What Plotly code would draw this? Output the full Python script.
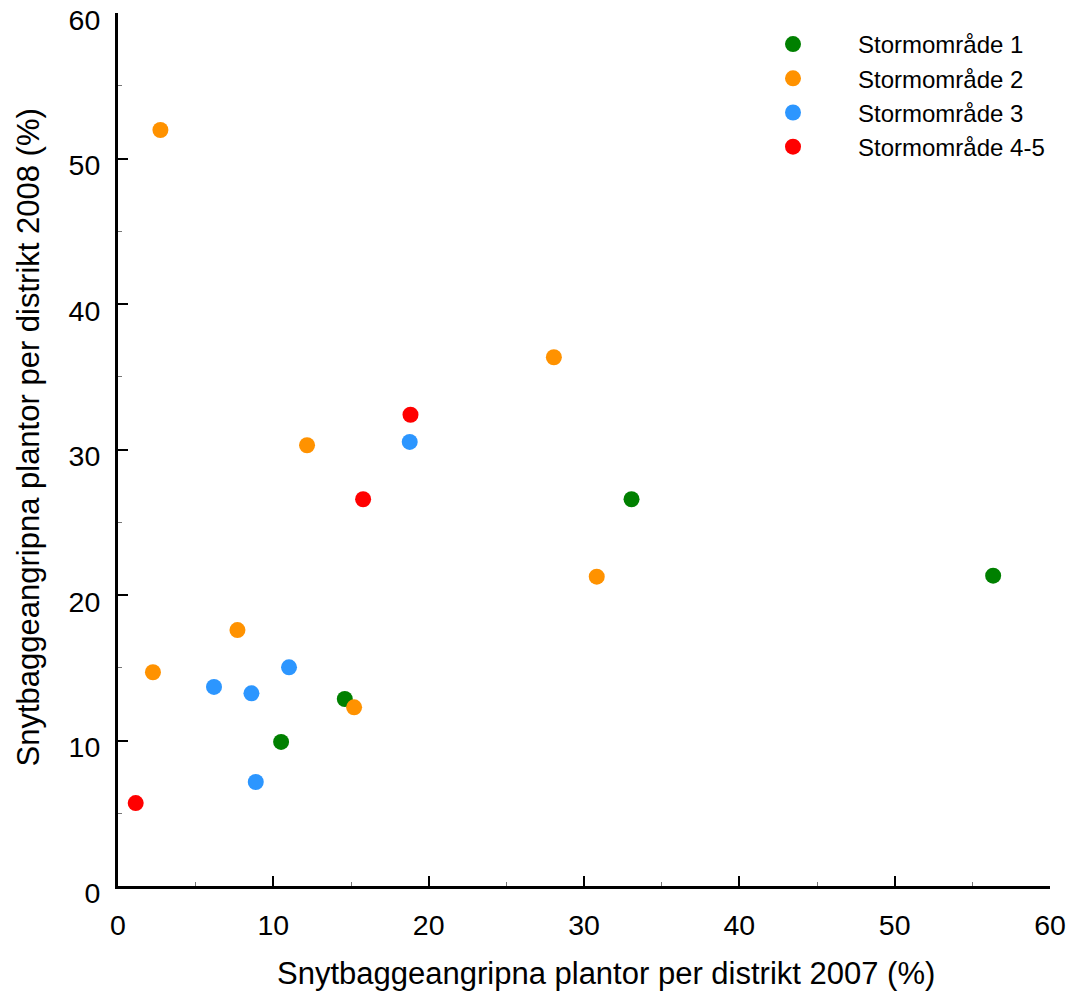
import plotly.graph_objects as go

series_names = ["Stormområde 1", "Stormområde 2", "Stormområde 3", "Stormområde 4-5"]
series_colors = ["#008000", "#FF9200", "#2C96FF", "#FF0000"]

x_s1 = [10.5, 14.6, 33.06, 56.34]
y_s1 = [9.9, 12.85, 26.58, 21.33]

x_s2 = [2.73, 2.25, 7.69, 12.17, 15.2, 28.06, 30.82]
y_s2 = [51.96, 14.69, 17.59, 30.29, 12.28, 36.34, 21.26]

x_s3 = [6.18, 8.59, 8.87, 11.01, 18.78]
y_s3 = [13.68, 13.24, 7.15, 15.03, 30.52]

x_s4 = [1.14, 15.78, 18.83]
y_s4 = [5.7, 26.58, 32.39]

tick_values = [0, 10, 20, 30, 40, 50, 60]

xs = [x_s1, x_s2, x_s3, x_s4]
ys = [y_s1, y_s2, y_s3, y_s4]

x_title = "Snytbaggeangripna plantor per distrikt 2007 (%)"
y_title = "Snytbaggeangripna plantor per distrikt 2008 (%)"

FONT = "Liberation Sans, Arial, sans-serif"

fig = go.Figure()
for name, color, xv, yv in zip(series_names, series_colors, xs, ys):
    fig.add_trace(go.Scatter(
        x=xv, y=yv, mode="markers", name=name,
        marker=dict(color=color, size=16, line=dict(width=0)),
        cliponaxis=False,
    ))

W, H = 1072, 996
ml, mr, mt, mb = 118, 22, 13, 110
pw, ph = W - ml - mr, H - mt - mb

axis_common = dict(
    range=[0, 60], tickmode="array", tickvals=tick_values,
    ticktext=[str(v) for v in tick_values],
    showgrid=False, zeroline=False, automargin=False,
    showline=True, linecolor="black", linewidth=3,
    ticks="inside", ticklen=10, tickwidth=2, tickcolor="black",
    tickfont=dict(family=FONT, size=28.5, color="black"),
    minor=dict(tickmode="linear", tick0=0, dtick=5, ticks="inside", ticklen=4,
               tickwidth=1, tickcolor="#777777", showgrid=False),
    fixedrange=True,
)

fig.update_layout(
    width=W, height=H,
    margin=dict(l=ml, r=mr, t=mt, b=mb, pad=0, autoexpand=False),
    paper_bgcolor="white", plot_bgcolor="white",
    font=dict(family=FONT, color="black"),
    xaxis=dict(**axis_common, ticklabelstandoff=12),
    yaxis=dict(**axis_common, ticklabelstandoff=9, ticklabelshift=7),
    legend=dict(
        x=(728 - ml) / pw, y=1.0 - 9 / ph, xanchor="left", yanchor="top",
        font=dict(family=FONT, size=24, color="black"),
        itemwidth=120, bgcolor="rgba(0,0,0,0)", tracegroupgap=0,
    ),
    annotations=[
        dict(text=x_title, xref="paper", yref="paper",
             x=(606 - ml) / pw, y=-(973 - (mt + ph)) / ph,
             xanchor="center", yanchor="middle", showarrow=False,
             font=dict(family=FONT, size=31, color="black")),
        dict(text=y_title, xref="paper", yref="paper",
             x=-(ml - 28) / pw, y=(mt + ph - 437.5) / ph, textangle=-90,
             xanchor="center", yanchor="middle", showarrow=False,
             font=dict(family=FONT, size=31, color="black")),
    ],
)

fig.write_html("out.html")
